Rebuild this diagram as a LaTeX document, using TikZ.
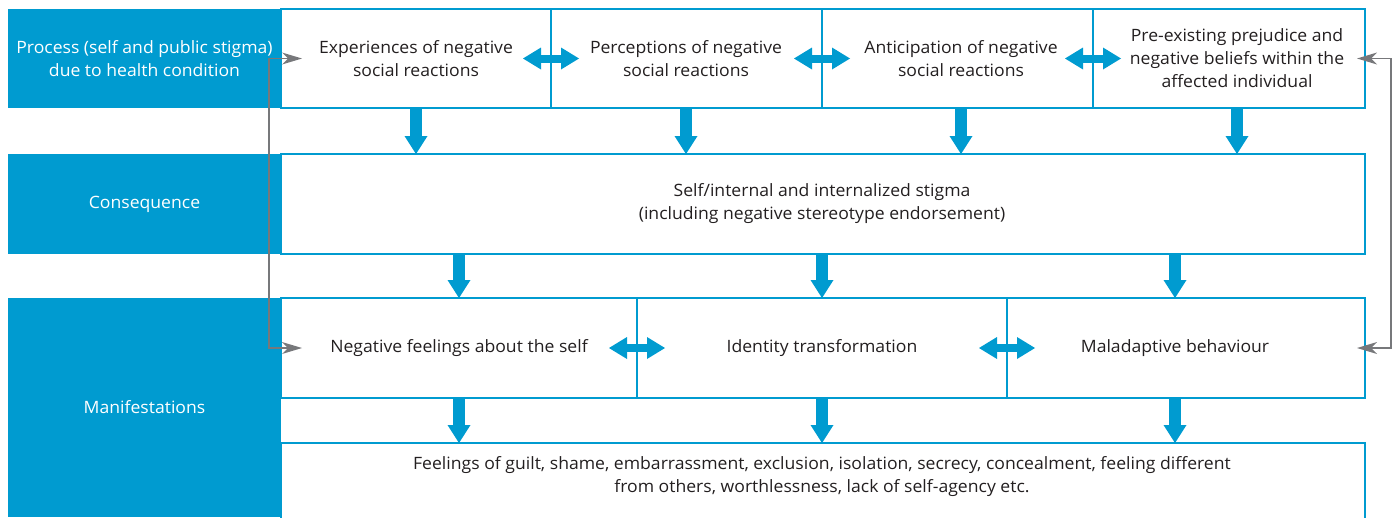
\documentclass[tikz,border=0pt]{standalone}
\usepackage{fontspec}
\setmainfont[FakeStretch=1.035]{Open Sans}
\usetikzlibrary{arrows.meta,calc}
\definecolor{cblue}{RGB}{0,155,208}
\definecolor{ctext}{RGB}{35,31,32}
\definecolor{cgray}{RGB}{119,120,123}
\tikzset{
  box/.style={draw=cblue, line width=1.6pt, rectangle, inner sep=0pt, outer sep=0pt, anchor=north west},
  side/.style={fill=cblue, rectangle, inner sep=0pt, outer sep=0pt, anchor=north west, text=white, align=center},
  txt/.style={align=center, inner sep=0pt},
  dn/.style={draw=cblue, line width=12pt, -{Triangle[width=23pt,length=18pt,line width=0pt]}},
  dbl/.style={draw=cblue, line width=8pt, {Triangle[width=22pt,length=18pt,line width=0pt]}-{Triangle[width=22pt,length=18pt,line width=0pt]}},
  garr/.style={draw=cgray, line width=1.5pt, {Stealth[length=20pt,width=12pt,inset=6pt,line width=0pt]}-{Stealth[length=20pt,width=12pt,inset=6pt,line width=0pt]}}
}
\begin{document}
\begin{tikzpicture}[x=1pt,y=-1pt,font=\fontsize{17}{23}\selectfont,text=ctext]
\useasboundingbox (0,0) rectangle (1397,517);
\clip (0,0) rectangle (1397,517);
% left column
\node[side, minimum width=273pt, minimum height=99pt] (proc) at (8,9) {Process (self and public stigma)\\due to health condition};
\node[side, minimum width=273pt, minimum height=100pt] (consl) at (8,154) {Consequence};
\node[side, minimum width=273pt, minimum height=219pt] (manl) at (8,298) {Manifestations};
% top row boxes
\node[box, minimum width=270pt, minimum height=99pt] (exp) at (281,9) {};
\node[box, minimum width=271pt, minimum height=99pt] (perc) at (551,9) {};
\node[box, minimum width=271pt, minimum height=99pt] (anti) at (822,9) {};
\node[box, minimum width=272pt, minimum height=99pt] (pre) at (1093,9) {};
\node[txt] (expt) at (416,58.5) {Experiences of negative\\social reactions};
\node[txt] (perct) at (686,58.5) {Perceptions of negative\\social reactions};
\node[txt] (antit) at (961,58.5) {Anticipation of negative\\social reactions};
\node[txt] (pret) at (1237,58.5) {Pre-existing prejudice and\\negative beliefs within the\\affected individual};
% consequence
\node[box, minimum width=1084pt, minimum height=100pt] (cons) at (281,154) {};
\node[txt] (const) at (822,204) {Self/internal and internalized stigma\\(including negative stereotype endorsement)};
% manifestations row
\node[box, minimum width=356pt, minimum height=100pt] (neg) at (281,298) {};
\node[box, minimum width=370pt, minimum height=100pt] (ident) at (637,298) {};
\node[box, minimum width=358pt, minimum height=100pt] (mal) at (1007,298) {};
\node[txt] (negt) at (459,348) {Negative feelings about the self};
\node[txt] (identt) at (822,348) {Identity transformation};
\node[txt] (malt) at (1175,348) {Maladaptive behaviour};
% bottom
\node[box, minimum width=1084pt, minimum height=95pt] (feel) at (281,443) {};
\node[txt] (feelt) at (822,477) {Feelings of guilt, shame, embarrassment, exclusion, isolation, secrecy, concealment, feeling different\\from others, worthlessness, lack of self-agency etc.};
% double arrows
\draw[dbl] ([xshift=-28pt]exp.east) -- ([xshift=28pt]perc.west);
\draw[dbl] ([xshift=-28pt]perc.east) -- ([xshift=28pt]anti.west);
\draw[dbl] ([xshift=-28pt]anti.east) -- ([xshift=28pt]pre.west);
\draw[dbl] ([xshift=-28pt]neg.east) -- ([xshift=28pt]ident.west);
\draw[dbl] ([xshift=-28pt]ident.east) -- ([xshift=28pt]mal.west);
% down arrows
\draw[dn] (exp.south -| expt) -- (cons.north -| expt);
\draw[dn] (perc.south -| perct) -- (cons.north -| perct);
\draw[dn] (anti.south -| antit) -- (cons.north -| antit);
\draw[dn] (pre.south -| pret) -- (cons.north -| pret);
\draw[dn] (cons.south -| negt) -- (neg.north -| negt);
\draw[dn] (cons.south -| identt) -- (ident.north -| identt);
\draw[dn] (cons.south -| malt) -- (mal.north -| malt);
\draw[dn] (neg.south -| negt) -- (feel.north -| negt);
\draw[dn] (ident.south -| identt) -- (feel.north -| identt);
\draw[dn] (mal.south -| malt) -- (feel.north -| malt);
% gray connectors
\coordinate (gL) at (269,0);
\coordinate (gR) at (1391,0);
\draw[garr] ([xshift=21pt]exp.west) -- (exp.west -| gL) -- (neg.west -| gL) -- ([xshift=21pt]neg.west);
\draw[garr] ([xshift=-8pt]pre.east) -- (pre.east -| gR) -- (mal.east -| gR) -- ([xshift=-8pt]mal.east);
\end{tikzpicture}
\end{document}
